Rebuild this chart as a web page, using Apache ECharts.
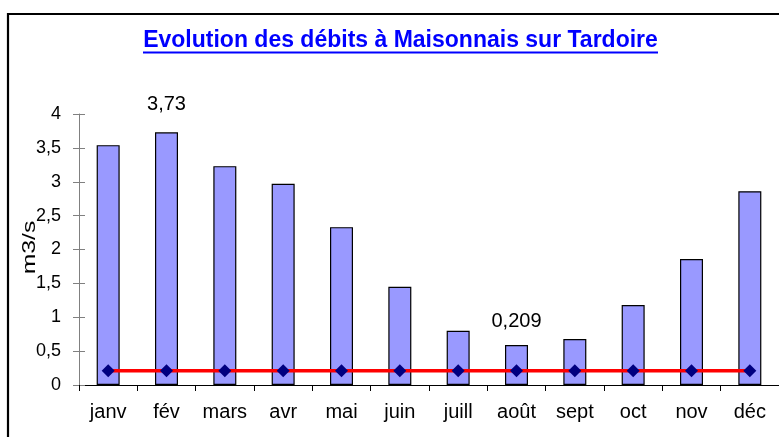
<!DOCTYPE html>
<html><head><meta charset="utf-8">
<script src="https://cdn.jsdelivr.net/npm/echarts@6/dist/echarts.min.js"></script>
<style>html,body{margin:0;padding:0;background:#fff}#c{width:779px;height:437px}</style>
</head><body><div id="c"></div>
<script>
const months = ['janv','fév','mars','avr','mai','juin','juill','août','sept','oct','nov','déc'];
const debits = [3.54, 3.73, 3.23, 2.97, 2.33, 1.45, 0.80, 0.59, 0.68, 1.18, 1.86, 2.86];
const seuil = [0.209,0.209,0.209,0.209,0.209,0.209,0.209,0.209,0.209,0.209,0.209,0.209];
const yTicks = [0, 0.5, 1, 1.5, 2, 2.5, 3, 3.5, 4];
const titleText = 'Evolution des débits à Maisonnais sur Tardoire';
const yName = 'm3/s';
const fmt = v => String(v).replace('.', ',');

const chart = echarts.init(document.getElementById('c'), null, {renderer:'canvas'});
const font = 'Liberation Sans, Arial, sans-serif';
const barData = debits.map((v,i) => i === 1 ? {value:v, label:{show:true, position:'top', distance:18, formatter: p => fmt(p.value), color:'#000', fontSize:20, fontFamily:font}} : v);
const lineData = seuil.map((v,i) => i === 7 ? {value:v, label:{show:true, position:'top', distance:33, formatter: p => fmt(p.value), color:'#000', fontSize:20, fontFamily:font}} : v);

chart.setOption({
  animation:false,
  graphic:[
    {type:'rect', shape:{x:8, y:14, width:800, height:460}, style:{fill:'none', stroke:'#000', lineWidth:2.2}, silent:true},
    {type:'text', x:400.5, y:41, style:{text:titleText, fill:'#0000ff', font:'bold 23px ' + font, textAlign:'center', textVerticalAlign:'middle'}},
    {type:'line', shape:{x1:143, y1:52.5, x2:658, y2:52.5}, style:{stroke:'#0000ff', lineWidth:2}},
    {type:'text', x:30, y:247.5, rotation:Math.PI/2, scaleX:1.3, style:{text:yName, fill:'#000', font:'19px ' + font, textAlign:'center', textVerticalAlign:'middle'}}
  ],
  grid:{left:79, top:114, width:706, height:271, containLabel:false},
  xAxis:{type:'category', data:months, boundaryGap:true,
    axisLine:{lineStyle:{color:'#000', width:1}},
    axisTick:{show:true, length:6, lineStyle:{color:'#000'}},
    axisLabel:{color:'#000', fontSize:20, fontFamily:font, margin:17}},
  yAxis:[
    {type:'value', min:0, max:4, interval:0.5,
      axisLine:{show:true, lineStyle:{color:'#808080'}},
      axisTick:{show:true, length:6, lineStyle:{color:'#808080'}},
      splitLine:{show:false},
      axisLabel:{color:'#000', fontSize:18, fontFamily:font, margin:18, formatter: v => fmt(v)}},
    {type:'value', min:0, max:4, interval:0.5, position:'left',
      axisLine:{show:false},
      axisTick:{show:true, inside:true, length:6, lineStyle:{color:'#808080'}},
      axisLabel:{show:false}, splitLine:{show:false}}
  ],
  series:[
    {type:'bar', data:barData, barWidth:23,
      itemStyle:{color:'#9999ff', borderColor:'#000', borderWidth:1.2}, z:2},
    {type:'line', data:lineData, symbol:'diamond', symbolSize:13,
      lineStyle:{color:'#ff0000', width:3.5},
      itemStyle:{color:'#000080', borderWidth:0}, z:3}
  ]
});
</script></body></html>
